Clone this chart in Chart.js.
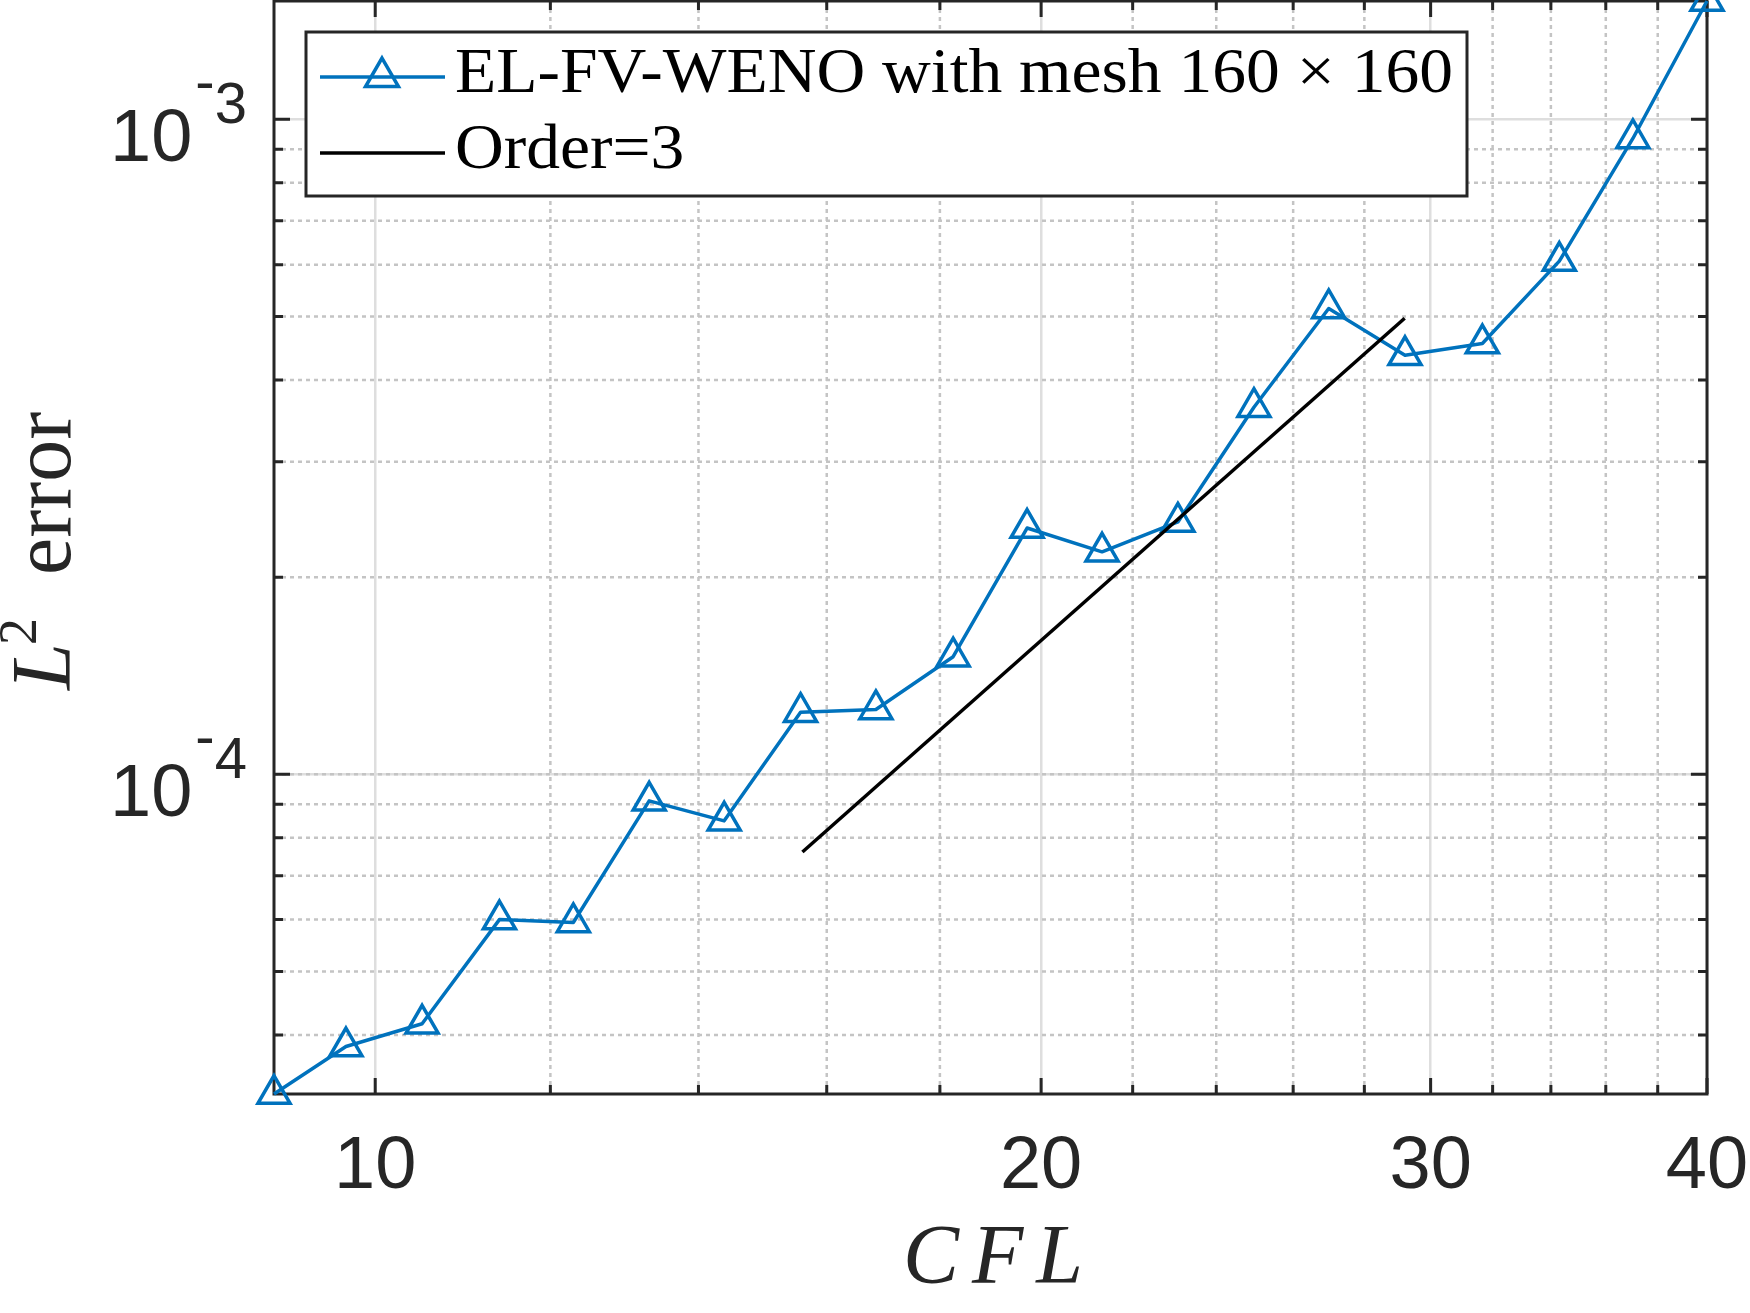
<!DOCTYPE html>
<html>
<head>
<meta charset="utf-8">
<title>L2 error vs CFL</title>
<script src="https://cdn.jsdelivr.net/npm/chart.js@4.4.1/dist/chart.umd.min.js"></script>
<style>
  html, body { margin: 0; padding: 0; background: #fff; }
  #wrap { width: 1750px; height: 1313px; position: relative; }
</style>
</head>
<body>
<div id="wrap"><canvas id="errChart"></canvas></div>
<script>
// EL-FV-WENO, mesh 160 x 160 : L2 error against CFL
var cflValues = [9.0, 9.70, 10.50, 11.38, 12.29, 13.30, 14.38, 15.57, 16.84, 18.25,
                 19.71, 21.31, 23.06, 24.96, 26.98, 29.21, 31.66, 34.30, 37.03, 40.0];
var errValues = [3.25e-5, 3.84e-5, 4.16e-5, 6.00e-5, 5.94e-5, 9.11e-5, 8.49e-5, 1.244e-4, 1.256e-4, 1.512e-4,
                 2.377e-4, 2.186e-4, 2.428e-4, 3.635e-4, 5.143e-4, 4.363e-4, 4.547e-4, 6.076e-4, 9.35e-4, 1.516e-3];

// slope 3 reference line (end points)
var orderX = [15.6, 29.2];
var orderY = [7.61e-5, 4.97e-4];

// axes
var xRange = [9, 40];
var yRange = [3.25e-5, 1.516e-3];
var xMajor = [10, 20, 30, 40];
var xMinor = [12, 14, 16, 18, 22, 24, 26, 28, 32, 34, 36, 38];
var yMajor = [1e-4, 1e-3];
var yMajorExp = ['-4', '-3'];
var yMinor = [4e-5, 5e-5, 6e-5, 7e-5, 8e-5, 9e-5, 1e-4, 2e-4, 3e-4, 4e-4, 5e-4, 6e-4, 7e-4, 8e-4, 9e-4];

var legendLabels = ['EL-FV-WENO with mesh 160 \u00d7 160', 'Order=3'];

var BLUE = '#0072BD';
var AXIS = '#262626';
var SANS = '"Liberation Sans", Arial, Helvetica, sans-serif';
var SERIF = '"Liberation Serif", "Times New Roman", serif';

function triangle(ctx, x, y, r) {
    ctx.beginPath();
    for (var k = 0; k < 3; k++) {
        var ang = k * 2 * Math.PI / 3;
        var px = x + Math.sin(ang) * r, py = y - Math.cos(ang) * r;
        if (k === 0) ctx.moveTo(px, py); else ctx.lineTo(px, py);
    }
    ctx.closePath();
    ctx.stroke();
}

// matlab style box, inward ticks, dotted minor grid
var matlabAxes = {
    id: 'matlabAxes',
    beforeDatasetsDraw: function (chart) {
        var ctx = chart.ctx, a = chart.chartArea;
        var xs = chart.scales.x, ys = chart.scales.y;
        ctx.save();

        ctx.strokeStyle = '#c4c4c4';
        ctx.lineWidth = 2.5;
        ctx.setLineDash([4, 4]);
        ctx.beginPath();
        xMinor.forEach(function (v) {
            var p = xs.getPixelForValue(v);
            ctx.moveTo(p, a.top); ctx.lineTo(p, a.bottom);
        });
        yMinor.forEach(function (v) {
            var p = ys.getPixelForValue(v);
            ctx.moveTo(a.left, p); ctx.lineTo(a.right, p);
        });
        ctx.stroke();
        ctx.setLineDash([]);

        ctx.strokeStyle = AXIS;
        ctx.lineWidth = 3;
        ctx.beginPath();
        function xTick(v, len) {
            var p = xs.getPixelForValue(v);
            ctx.moveTo(p, a.bottom); ctx.lineTo(p, a.bottom - len);
            ctx.moveTo(p, a.top); ctx.lineTo(p, a.top + len);
        }
        function yTick(v, len) {
            var p = ys.getPixelForValue(v);
            ctx.moveTo(a.left, p); ctx.lineTo(a.left + len, p);
            ctx.moveTo(a.right, p); ctx.lineTo(a.right - len, p);
        }
        xMinor.forEach(function (v) { xTick(v, 9); });
        xMajor.forEach(function (v) { xTick(v, 16); });
        yMinor.forEach(function (v) { yTick(v, 9); });
        yMajor.forEach(function (v) { yTick(v, 16); });
        ctx.stroke();

        ctx.strokeRect(a.left, a.top, a.right - a.left, a.bottom - a.top);
        ctx.restore();
    },
    afterDraw: function (chart) {
        var ctx = chart.ctx, a = chart.chartArea;
        var ys = chart.scales.y;
        ctx.save();

        // y tick labels 10^-n
        ctx.fillStyle = AXIS;
        ctx.textAlign = 'left';
        ctx.textBaseline = 'alphabetic';
        yMajor.forEach(function (v, i) {
            var p = ys.getPixelForValue(v);
            var x0 = a.left - 164;
            ctx.font = '74px ' + SANS;
            ctx.fillText('10', x0, p + 42);
            var x1 = x0 + ctx.measureText('10').width + 3;
            ctx.font = '58px ' + SANS;
            var exp = yMajorExp[i];
            ctx.fillText(exp.charAt(0), x1, p + 4 - 22);
            x1 += ctx.measureText(exp.charAt(0)).width;
            ctx.fillText(exp.slice(1), x1, p + 4);
        });

        // x axis title
        ctx.font = 'italic 84px ' + SERIF;
        ctx.textAlign = 'center';
        ctx.letterSpacing = '13px';
        ctx.fillText('CFL', (a.left + a.right) / 2 + 9, 1283);
        ctx.letterSpacing = '0px';

        // y axis title, rotated
        ctx.save();
        ctx.translate(70, 690);
        ctx.rotate(-Math.PI / 2);
        ctx.textAlign = 'left';
        ctx.font = 'italic 84px ' + SERIF;
        ctx.fillText('L', 0, 0);
        ctx.font = '54px ' + SERIF;
        ctx.fillText('2', 45, -34);
        ctx.font = '84px ' + SERIF;
        ctx.fillText('error', 115, 0);
        ctx.restore();

        // legend
        var bx = 306, by = 32, bw = 1161, bh = 164;
        ctx.fillStyle = '#fff';
        ctx.fillRect(bx, by, bw, bh);
        ctx.strokeStyle = AXIS;
        ctx.lineWidth = 3;
        ctx.strokeRect(bx, by, bw, bh);

        ctx.lineWidth = 3.5;
        ctx.strokeStyle = BLUE;
        ctx.beginPath(); ctx.moveTo(320, 77); ctx.lineTo(445, 77); ctx.stroke();
        triangle(ctx, 382, 77, 19);
        ctx.strokeStyle = '#000';
        ctx.beginPath(); ctx.moveTo(320, 153); ctx.lineTo(445, 153); ctx.stroke();

        ctx.fillStyle = '#000';
        ctx.textAlign = 'left';
        ctx.font = '63px ' + SERIF;
        var sx = 998 / ctx.measureText(legendLabels[0]).width;
        var rows = [92, 168];
        legendLabels.forEach(function (t, i) {
            ctx.save();
            ctx.translate(455, rows[i]);
            ctx.scale(sx, 1);
            ctx.fillText(t, 0, 0);
            ctx.restore();
        });

        ctx.restore();
    }
};

var seriesPts = cflValues.map(function (x, i) { return { x: x, y: errValues[i] }; });
var orderPts = orderX.map(function (x, i) { return { x: x, y: orderY[i] }; });

var ctx = document.getElementById('errChart').getContext('2d');
var errChart = new Chart(ctx, {
    type: 'line',
    data: {
        datasets: [{
            label: legendLabels[0],
            data: seriesPts,
            order: 1,
            borderColor: BLUE,
            borderWidth: 3.5,
            borderJoinStyle: 'round',
            tension: 0,
            pointStyle: 'triangle',
            pointRadius: 18.5,
            pointBorderWidth: 3.5,
            pointBorderColor: BLUE,
            pointBackgroundColor: 'rgba(0,0,0,0)',
            clip: false
        }, {
            label: legendLabels[1],
            data: orderPts,
            order: 0,
            borderColor: '#000',
            borderWidth: 3.5,
            tension: 0,
            pointRadius: 0
        }]
    },
    options: {
        responsive: true,
        maintainAspectRatio: false,
        animation: false,
        events: [],
        layout: { autoPadding: false, padding: { left: 0, right: 43, top: 1, bottom: 0 } },
        plugins: { legend: { display: false }, tooltip: { enabled: false } },
        scales: {
            x: {
                type: 'logarithmic',
                min: xRange[0],
                max: xRange[1],
                bounds: 'data',
                afterBuildTicks: function (s) {
                    s.ticks = xMajor.map(function (v) { return { value: v }; });
                },
                afterFit: function (s) {
                    s.height = 219;
                    s.paddingLeft = 0;
                    s.paddingRight = 0;
                },
                border: { display: false },
                grid: { color: '#dedede', lineWidth: 2.5, drawTicks: false },
                ticks: {
                    autoSkip: false,
                    maxRotation: 0,
                    minRotation: 0,
                    padding: 29,
                    color: AXIS,
                    font: { family: SANS, size: 74 },
                    callback: function (v) { return String(v); }
                }
            },
            y: {
                type: 'logarithmic',
                min: yRange[0],
                max: yRange[1],
                bounds: 'data',
                afterBuildTicks: function (s) {
                    s.ticks = yMajor.map(function (v) { return { value: v }; });
                },
                afterFit: function (s) {
                    s.width = 274;
                },
                border: { display: false },
                grid: { color: '#dedede', lineWidth: 2.5, drawTicks: false },
                ticks: { display: false }
            }
        }
    },
    plugins: [matlabAxes]
});
</script>
</body>
</html>
